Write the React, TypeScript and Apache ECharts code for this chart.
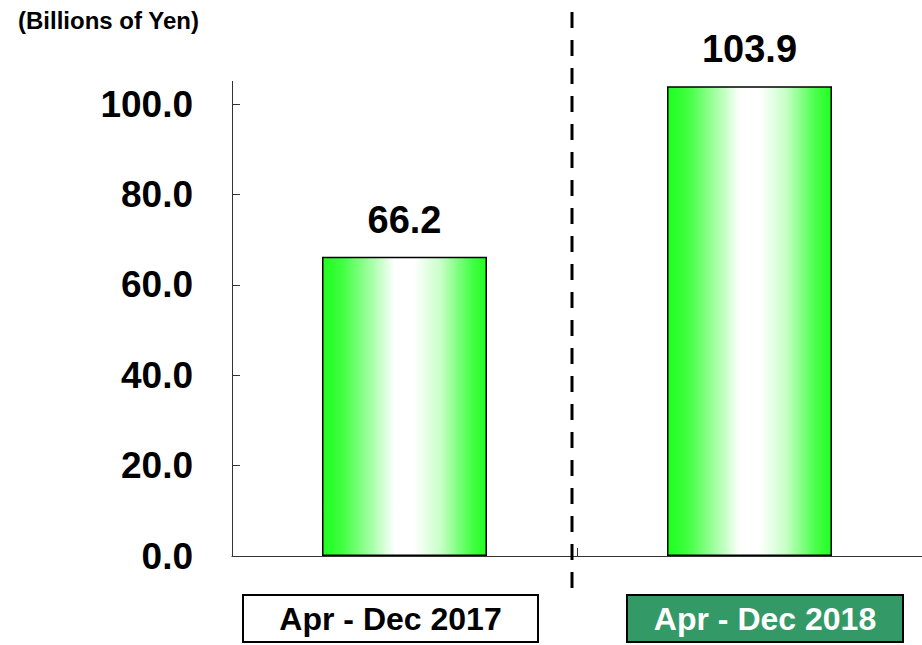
import React, { useEffect, useRef } from "react";
import * as echarts from "echarts";

const categories = ["Apr - Dec 2017", "Apr - Dec 2018"];
const values = [66.2, 103.9];
const unitLabel = "(Billions of Yen)";
const yMin = 0;
const yMax = 105;
const yInterval = 20;

const FONT = "'Liberation Sans', Arial, sans-serif";

export default function App() {
  const ref = useRef<HTMLDivElement>(null);
  useEffect(() => {
    if (!ref.current) return;
    const chart = echarts.init(ref.current, null, { renderer: "svg" });
    const barGradient = new echarts.graphic.LinearGradient(0, 0, 1, 0, [
      { offset: 0, color: "#1eff1e" },
      { offset: 0.12, color: "#40ff40" },
      { offset: 0.3, color: "#a8ffa8" },
      { offset: 0.44, color: "#ffffff" },
      { offset: 0.56, color: "#ffffff" },
      { offset: 0.72, color: "#c8ffc8" },
      { offset: 0.9, color: "#4cff4c" },
      { offset: 1, color: "#1eff1e" },
    ]);
    chart.setOption({
      animation: false,
      backgroundColor: "#ffffff",
      textStyle: { fontFamily: FONT },
      grid: { left: 232, right: 0, top: 81.4, bottom: 89, containLabel: false },
      xAxis: {
        type: "category",
        data: categories,
        axisLine: { lineStyle: { color: "#333", width: 1 } },
        axisTick: { show: true, inside: true, length: 8, lineStyle: { color: "#333" } },
        axisLabel: { show: false },
      },
      yAxis: {
        type: "value",
        min: yMin,
        max: yMax,
        interval: yInterval,
        axisLine: { show: true, lineStyle: { color: "#333", width: 1 } },
        axisTick: { show: true, inside: true, length: 8, lineStyle: { color: "#333" } },
        splitLine: { show: false },
        axisLabel: {
          margin: 39,
          fontSize: 37,
          fontWeight: "bold",
          color: "#000",
          fontFamily: FONT,
          formatter: (v: number) => v.toFixed(1),
        },
      },
      series: [
        {
          type: "bar",
          data: values,
          barWidth: 165,
          itemStyle: { color: barGradient, borderColor: "#000", borderWidth: 1.5 },
          label: {
            show: true,
            position: "top",
            distance: 18,
            fontSize: 38,
            fontWeight: "bold",
            color: "#000",
            fontFamily: FONT,
            formatter: (p: any) => Number(p.value).toFixed(1),
          },
        },
      ],
      graphic: [
        {
          type: "text",
          left: 18,
          top: 8,
          style: {
            text: unitLabel,
            fontSize: 24,
            fontWeight: "bold",
            fill: "#000",
            fontFamily: FONT,
          },
        },
        {
          type: "line",
          shape: { x1: 572, y1: 12, x2: 572, y2: 592 },
          style: { stroke: "#000", lineWidth: 3, lineDash: [16, 12] },
          z: 10,
        },
        {
          type: "group",
          children: [
            {
              type: "rect",
              shape: { x: 243, y: 595, width: 295, height: 47 },
              style: { fill: "#ffffff", stroke: "#000", lineWidth: 2 },
            },
            {
              type: "text",
              x: 390.5,
              y: 619,
              style: {
                text: categories[0],
                fontSize: 32,
                fontWeight: "bold",
                fill: "#000",
                align: "center",
                verticalAlign: "middle",
                fontFamily: FONT,
              },
            },
            {
              type: "rect",
              shape: { x: 627, y: 595, width: 276, height: 47 },
              style: { fill: "#339966", stroke: "#000", lineWidth: 2 },
            },
            {
              type: "text",
              x: 765,
              y: 619,
              style: {
                text: categories[1],
                fontSize: 32,
                fontWeight: "bold",
                fill: "#ffffff",
                align: "center",
                verticalAlign: "middle",
                fontFamily: FONT,
              },
            },
          ],
        },
      ],
    });
    return () => chart.dispose();
  }, []);
  return <div ref={ref} style={{ width: 922, height: 645, position: "absolute", left: 0, top: 0 }} />;
}
